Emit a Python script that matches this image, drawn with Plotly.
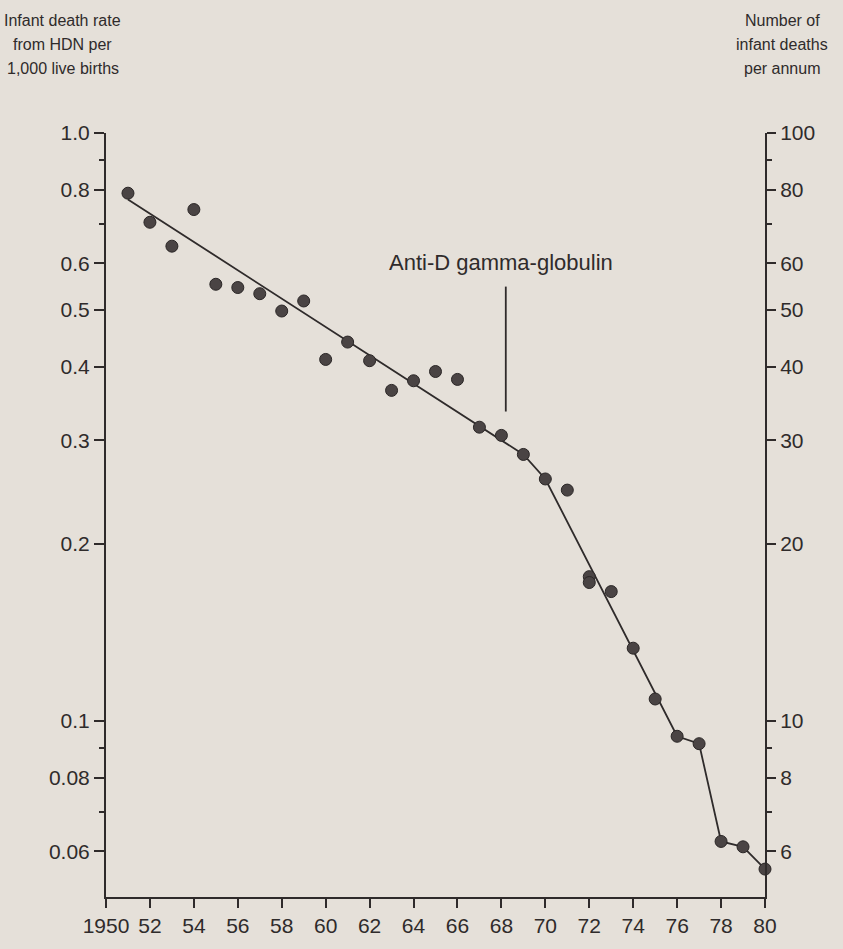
import plotly.graph_objects as go
import math

# ---- data ----
years = [1951, 1952, 1953, 1954, 1955, 1956, 1957, 1958, 1959, 1960,
         1961, 1962, 1963, 1964, 1965, 1966, 1967, 1968, 1969, 1970,
         1971, 1972, 1972, 1973, 1974, 1975, 1976, 1977, 1978, 1979, 1980]
rates = [0.79, 0.705, 0.642, 0.741, 0.553, 0.546, 0.533, 0.498, 0.518, 0.412,
         0.441, 0.410, 0.365, 0.379, 0.393, 0.381, 0.316, 0.306, 0.284, 0.258,
         0.247, 0.176, 0.172, 0.166, 0.133, 0.109, 0.0942, 0.0915, 0.0624, 0.0611, 0.056]

trend_years = [1951, 1969, 1970, 1976, 1977, 1978, 1979, 1980]
trend_rates = [0.771, 0.284, 0.258, 0.0942, 0.0915, 0.0624, 0.0611, 0.056]

antid_year = 1968.2
antid_span = [0.548, 0.336]
antid_label = "Anti-D gamma-globulin"

left_header = ["Infant death rate", "from HDN per", "1,000 live births"]
right_header = ["Number of", "infant deaths", "per annum"]

x_ticks = list(range(1950, 1981, 2))
x_ticktext = ["1950"] + [str(y % 100) for y in x_ticks[1:]]

left_ticks = [1.0, 0.8, 0.6, 0.5, 0.4, 0.3, 0.2, 0.1, 0.08, 0.06]
left_ticktext = ["1.0", "0.8", "0.6", "0.5", "0.4", "0.3", "0.2", "0.1", "0.08", "0.06"]
left_minor = [0.9, 0.7, 0.09, 0.07]
right_ticks = [100, 80, 60, 50, 40, 30, 20, 10, 8, 6]
right_ticktext = ["100", "80", "60", "50", "40", "30", "20", "10", "8", "6"]
right_minor = [90, 70, 9, 7]

y_min, y_max = 0.0502, 1.0

# ---- style ----
BG = "#e5e0d9"
INK = "#2f2b2b"
FONT = "Liberation Sans, Arial, sans-serif"

fig = go.Figure()

fig.add_trace(go.Scatter(
    x=trend_years, y=trend_rates, mode="lines",
    line=dict(color=INK, width=1.8), cliponaxis=False, showlegend=False,
    hoverinfo="skip"))

fig.add_trace(go.Scatter(
    x=[antid_year, antid_year], y=antid_span, mode="lines",
    line=dict(color=INK, width=1.8), cliponaxis=False, showlegend=False,
    hoverinfo="skip"))

fig.add_trace(go.Scatter(
    x=years, y=rates, mode="markers",
    marker=dict(size=12, color="#4a4444", line=dict(color="#2a2626", width=1)),
    cliponaxis=False, showlegend=False))

# empty trace so that the right-hand (deaths per annum) axis is drawn
fig.add_trace(go.Scatter(x=[], y=[], yaxis="y2", mode="markers",
                         showlegend=False, hoverinfo="skip"))

fig.add_annotation(
    x=antid_year, y=math.log10(antid_span[0]), xref="x", yref="y",
    text=antid_label, showarrow=False, xanchor="center", yanchor="bottom",
    yshift=10, xshift=-5, font=dict(family=FONT, size=22, color=INK))

header_y = [1.1470, 1.1160, 1.0850]
for i, line in enumerate(left_header):
    fig.add_annotation(
        x=-0.066, y=header_y[i], xref="paper", yref="paper", text=line,
        showarrow=False, xanchor="center", yanchor="middle",
        font=dict(family=FONT, size=16, color=INK))
for i, line in enumerate(right_header):
    fig.add_annotation(
        x=1.026, y=header_y[i], xref="paper", yref="paper", text=line,
        showarrow=False, xanchor="center", yanchor="middle",
        font=dict(family=FONT, size=16, color=INK))

axis_common = dict(
    showline=True, linecolor=INK, linewidth=2, ticks="outside",
    tickcolor=INK, tickwidth=2, showgrid=False, zeroline=False,
    tickfont=dict(family=FONT, size=21, color=INK))

fig.update_layout(
    width=843, height=949,
    margin=dict(l=106, r=78, t=133, b=41),
    paper_bgcolor=BG, plot_bgcolor=BG,
    showlegend=False,
    xaxis=dict(range=[1950, 1980], tickmode="array", tickvals=x_ticks,
               ticktext=x_ticktext, ticklen=9, **axis_common),
    yaxis=dict(type="log", range=[math.log10(y_min), math.log10(y_max)],
               tickmode="array", tickvals=left_ticks, ticktext=left_ticktext,
               ticklen=10,
               minor=dict(tickmode="array", tickvals=left_minor, ticks="outside",
                          ticklen=5, tickcolor=INK, tickwidth=2),
               **axis_common),
    yaxis2=dict(type="log", overlaying="y", side="right", anchor="x",
                range=[math.log10(y_min * 100), math.log10(y_max * 100)],
                tickmode="array", tickvals=right_ticks, ticktext=right_ticktext,
                ticklen=9,
                minor=dict(tickmode="array", tickvals=right_minor, ticks="outside",
                           ticklen=5, tickcolor=INK, tickwidth=2),
                **axis_common),
)

fig.write_html("out.html",
               config={"displayModeBar": False},
               post_script="document.body.style.margin='0';"
                           "document.body.style.background='%s';" % BG)
